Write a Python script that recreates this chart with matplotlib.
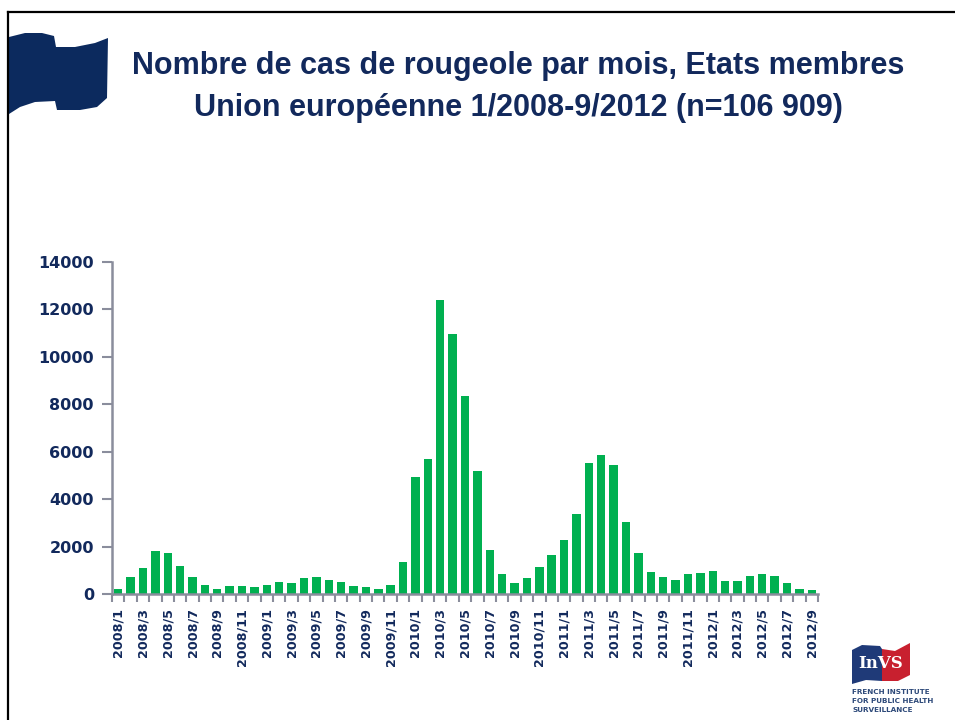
import numpy as np
import matplotlib.pyplot as plt
from matplotlib.patches import Polygon
from matplotlib.lines import Line2D

# monthly measles cases, EU member states, 1/2008 - 9/2012
months = [f"{y}/{m}" for y in range(2008, 2013) for m in range(1, 13)][:57]
cases = [225, 700, 1080, 1800, 1730, 1200, 700, 400, 225, 340, 340, 280,
         400, 500, 450, 660, 700, 600, 500, 340, 280, 225, 400, 1370,
         4940, 5700, 12400, 10950, 8370, 5200, 1860, 830, 450, 675, 1150, 1640,
         2290, 3360, 5530, 5850, 5430, 3040, 1740, 930, 725, 600, 830, 890,
         985, 550, 550, 770, 830, 770, 450, 225, 170]
y_ticks = [0, 2000, 4000, 6000, 8000, 10000, 12000, 14000]

navy = '#12295c'
green = '#00b050'
axis_grey = '#8a8d9c'

fig = plt.figure(figsize=(9.55, 7.2), dpi=100)
W, H = 955, 720

def px(x, y):
    return (x / W, 1 - y / H)

# frame lines top/left
fig.add_artist(Line2D([8 / W, 1], [1 - 12 / H] * 2, color='black', lw=1.6))
fig.add_artist(Line2D([8 / W] * 2, [1 - 12 / H, 0], color='black', lw=1.6))

# navy flag top left
flag_pts = [(9, 37), (25, 33), (42, 33), (54, 36), (56, 47), (75, 47), (95, 43), (108, 38),
            (107, 98), (97, 107), (80, 110), (57, 110), (55, 101), (35, 102), (20, 107), (9, 114)]
fig.add_artist(Polygon([px(x, y) for x, y in flag_pts], closed=True,
                       facecolor='#0c2a5e', edgecolor='none', transform=fig.transFigure))

# title
title_font = ['Liberation Sans', 'DejaVu Sans']
fig.text(518 / W, 1 - 66 / H, "Nombre de cas de rougeole par mois, Etats membres",
         ha='center', va='center', fontsize=22, fontweight='bold', color=navy, family=title_font)
fig.text(518 / W, 1 - 108 / H, "Union européenne 1/2008-9/2012 (n=106 909)",
         ha='center', va='center', fontsize=22, fontweight='bold', color=navy, family=title_font)

# chart
ax = fig.add_axes([112 / W, 1 - 594 / H, (818 - 112) / W, (594 - 262) / H])
x = np.arange(len(months))
ax.bar(x, cases, width=0.68, color=green, edgecolor='none')

ax.set_xlim(-0.5, len(months) - 0.5)
ax.set_ylim(0, 14000)
ax.set_yticks(y_ticks)
ax.set_yticklabels([str(v) for v in y_ticks])
ax.set_xticks(x[::2])
ax.set_xticklabels(months[::2], rotation=90, va='top', ha='center')
ax.set_xticks(np.arange(-0.5, len(months), 1), minor=True)

for s in ['top', 'right']:
    ax.spines[s].set_visible(False)
for s in ['left', 'bottom']:
    ax.spines[s].set_color(axis_grey)
    ax.spines[s].set_linewidth(1.8)

ax.tick_params(axis='y', direction='out', length=7, width=1.5, color=axis_grey,
               labelcolor=navy, labelsize=11.5, pad=6)
ax.tick_params(axis='x', which='major', length=0, labelcolor=navy, labelsize=9.2, pad=10)
ax.tick_params(axis='x', which='minor', direction='out', length=6, width=1.5, color=axis_grey)
for lab in ax.get_yticklabels() + ax.get_xticklabels():
    lab.set_fontweight('bold')

# InVS logo bottom right
left_pts = [(852, 650), (862, 645), (880, 646), (882, 649), (882, 681), (866, 680), (852, 684)]
right_pts = [(882, 649), (895, 651), (910, 643), (910, 675), (898, 681), (882, 681)]
fig.add_artist(Polygon([px(a, b) for a, b in left_pts], closed=True, facecolor='#1f3a78',
                       edgecolor='none', transform=fig.transFigure))
fig.add_artist(Polygon([px(a, b) for a, b in right_pts], closed=True, facecolor='#c8202f',
                       edgecolor='none', transform=fig.transFigure))
fig.text(881 / W, 1 - 664 / H, "InVS", ha='center', va='center', fontsize=12,
         fontweight='bold', color='white', family='DejaVu Serif')
for i, line in enumerate(["FRENCH INSTITUTE", "FOR PUBLIC HEALTH", "SURVEILLANCE"]):
    fig.text(852 / W, 1 - (692 + 9 * i) / H, line, ha='left', va='center', fontsize=5.2,
             fontweight='bold', color='#2e4a7a')

fig.savefig('out.png', dpi=100)
